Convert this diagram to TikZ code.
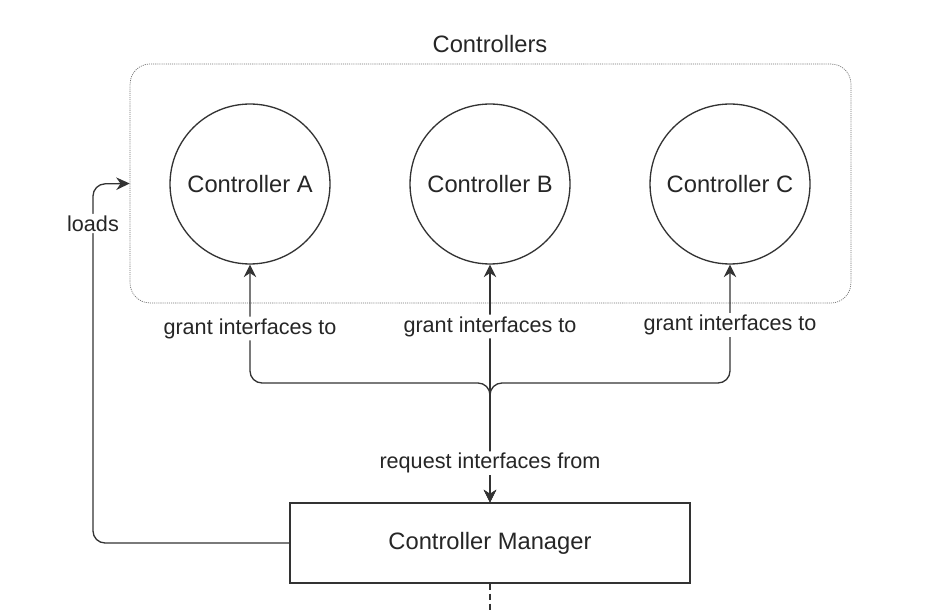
\documentclass[tikz,border=0pt]{standalone}
\usepackage{fontspec}
\setmainfont{Liberation Sans}
\usetikzlibrary{arrows.meta}
\begin{document}
\begin{tikzpicture}[x=0.02cm,y=-0.02cm,
ctrl/.style={circle, draw=black!80, line width=0.75pt, minimum size=3.2cm, inner sep=0pt, text=black!85, font=\fontsize{13.5}{16}\selectfont},
group/.style={draw=black!55, dash pattern=on 0.6pt off 0.6pt, rounded corners=0.4cm, minimum width=14.42cm, minimum height=4.78cm, inner sep=0pt},
mgr/.style={draw=black!80, line width=0.75pt, minimum width=8cm, minimum height=1.6cm, inner sep=0pt, text=black!85, font=\fontsize{13.5}{16}\selectfont},
lbl/.style={fill=white, inner sep=1pt, text=black!85, font=\fontsize{12.3}{15}\selectfont},
link/.style={draw=black!80, line width=0.75pt, rounded corners=0.24cm, {Stealth[length=0.25cm,width=0.25cm]}-{Stealth[length=0.25cm,width=0.25cm]}}]
\fill[white] (0,0) rectangle (942,612);
\node[group] (grp) at (490.5,183.5) {};
\node[text=black!85, font=\fontsize{13.5}{16}\selectfont] (grptitle) at (490,44) {Controllers};
\node[ctrl] (ca) at (250,184) {Controller A};
\node[ctrl] (cb) at (490,184) {Controller B};
\node[ctrl] (cc) at (730,184) {Controller C};
\node[mgr] (cm) at (490,543) {Controller Manager};
\coordinate (jn) at (490,383);
\coordinate (ld) at (93,184);
\coordinate (cmout) at (490,612);
\draw[link] (cm.north) -- (jn) -| node[lbl,pos=0.73]{grant interfaces to} (ca.south);
\draw[link] (cm.north) -- (jn) -| node[lbl,pos=0.745]{grant interfaces to} (cc.south);
\draw[link] (cm.north) -- node[lbl,pos=0.165]{request interfaces from} node[lbl,pos=0.74]{grant interfaces to} (cb.south);
\draw[link,-{Stealth[length=0.27cm,width=0.25cm]}] (cm.west) -| node[lbl,pos=0.945]{loads} (ld) -- (grp.west);
\draw[draw=black!80, line width=0.75pt, dash pattern=on 0.12cm off 0.08cm] (cm.south) -- (cmout);
\end{tikzpicture}
\end{document}
